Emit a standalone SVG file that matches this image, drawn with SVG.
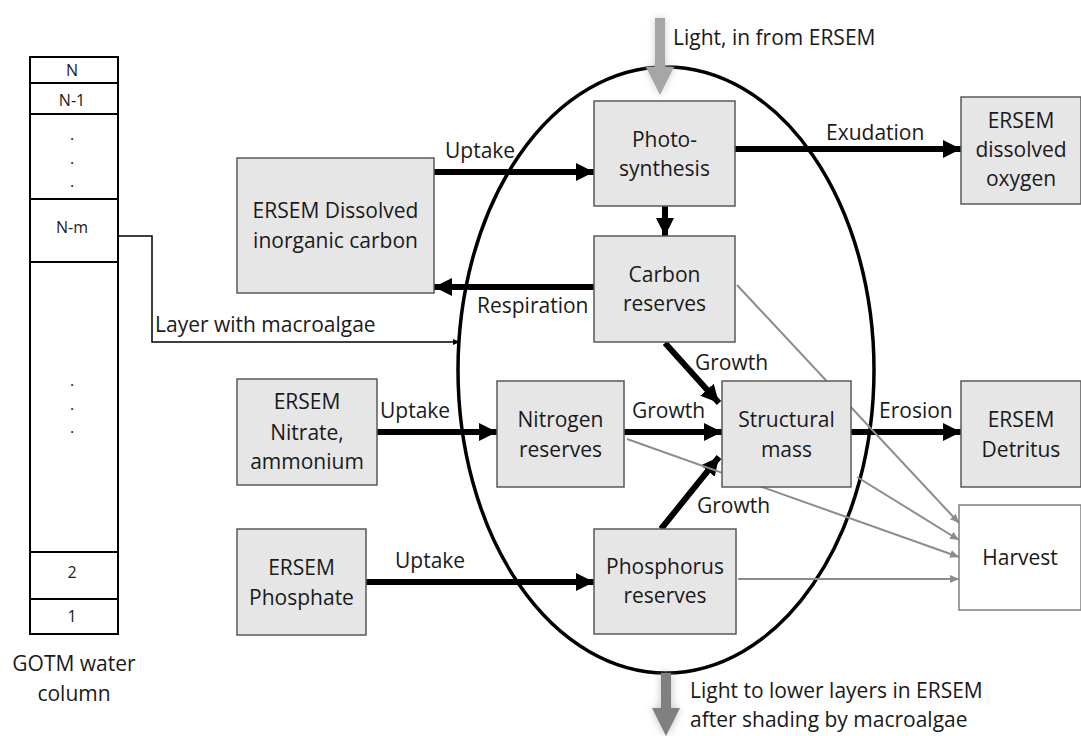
<svg xmlns="http://www.w3.org/2000/svg" width="1081" height="736" viewBox="0 0 1081 736">
<style>
text{font-family:"Open Sans","Liberation Sans",sans-serif;font-size:21px;fill:#1a1a1a;}
.c{text-anchor:middle;}
.box{fill:#e6e6e6;stroke:#595959;stroke-width:1.5;}
.wc{fill:#fff;stroke:#000;stroke-width:2;}
.wt{font-size:16px;}
.thick{stroke:#000;stroke-width:6;fill:none;marker-end:url(#ah);}
.grey{stroke:#8c8c8c;stroke-width:2;fill:none;marker-end:url(#gh);}
</style>
<defs>
<marker id="ah" markerUnits="userSpaceOnUse" markerWidth="20" markerHeight="20" refX="18" refY="9" orient="auto"><path d="M0,0 L18,9 L0,18 Z" fill="#000"/></marker>
<marker id="gh" markerUnits="userSpaceOnUse" markerWidth="10" markerHeight="10" refX="9" refY="4" orient="auto"><path d="M0,0 L9,4 L0,8 Z" fill="#8c8c8c"/></marker>
<marker id="sh" markerUnits="userSpaceOnUse" markerWidth="8" markerHeight="8" refX="7" refY="3" orient="auto"><path d="M0,0 L7,3 L0,6 Z" fill="#000"/></marker>
<filter id="glow" x="-100%" y="-30%" width="300%" height="160%"><feGaussianBlur stdDeviation="4"/></filter>
</defs>

<g id="water-column">
<rect class="wc" x="30" y="57" width="88" height="26"/>
<rect class="wc" x="30" y="83" width="88" height="31"/>
<rect class="wc" x="30" y="114" width="88" height="85"/>
<rect class="wc" x="30" y="199" width="88" height="63"/>
<rect class="wc" x="30" y="262" width="88" height="290"/>
<rect class="wc" x="30" y="552" width="88" height="47"/>
<rect class="wc" x="30" y="599" width="88" height="35"/>
<text class="c wt" x="72" y="76">N</text>
<text class="c wt" x="72" y="106">N-1</text>
<text class="c wt" x="72" y="140">.</text>
<text class="c wt" x="72" y="164">.</text>
<text class="c wt" x="72" y="187">.</text>
<text class="c wt" x="72" y="233">N-m</text>
<text class="c wt" x="72" y="386">.</text>
<text class="c wt" x="72" y="410">.</text>
<text class="c wt" x="72" y="433">.</text>
<text class="c wt" x="72" y="578">2</text>
<text class="c wt" x="72" y="622">1</text>
<text class="c" x="74" y="671">GOTM water</text>
<text class="c" x="74" y="701">column</text>
</g>

<g id="macroalgae-ellipse">
<ellipse cx="666" cy="370" rx="208" ry="303" fill="none" stroke="#000" stroke-width="3.5"/>
</g>

<g id="light-in">
<path d="M655,18 L665,18 L665,67 L674,67 L660,95 L646,67 L655,67 Z" fill="#bfbfbf" filter="url(#glow)" opacity="0.8"/>
<path d="M655,18 L665,18 L665,67 L674,67 L660,95 L646,67 L655,67 Z" fill="#a6a6a6"/>
<text x="673" y="45">Light, in from ERSEM</text>
</g>

<g id="light-out">
<path d="M661,673 L671,673 L671,708 L680,708 L666,736 L652,708 L661,708 Z" fill="#a6a6a6" filter="url(#glow)" opacity="0.7"/>
<path d="M661,673 L671,673 L671,708 L680,708 L666,736 L652,708 L661,708 Z" fill="#808080"/>
<text x="690" y="698">Light to lower layers in ERSEM</text>
<text x="690" y="727">after shading by macroalgae</text>
</g>

<g id="connectors">
<line class="thick" x1="434" y1="172" x2="594" y2="172"/>
<line class="thick" x1="735" y1="149" x2="961" y2="149"/>
<line class="thick" x1="665" y1="206" x2="665" y2="236"/>
<line class="thick" x1="594" y1="287" x2="434" y2="287"/>
<line class="thick" x1="665" y1="343" x2="719" y2="403"/>
<line class="thick" x1="624" y1="432" x2="722" y2="432"/>
<line class="thick" x1="661" y1="529" x2="719" y2="457"/>
<line class="thick" x1="851" y1="432" x2="961" y2="432"/>
<line class="thick" x1="377" y1="432" x2="497" y2="432"/>
<line class="thick" x1="366" y1="582" x2="594" y2="582"/>
<line class="grey" x1="737" y1="285" x2="959" y2="523"/>
<line class="grey" x1="857" y1="477" x2="959" y2="540"/>
<line class="grey" x1="627" y1="439" x2="959" y2="557"/>
<line class="grey" x1="738" y1="579" x2="959" y2="579"/>
<polyline points="118,236 152,236 152,342 460,342" fill="none" stroke="#000" stroke-width="1.5" marker-end="url(#sh)"/>
<text x="445" y="158">Uptake</text>
<text x="826" y="140">Exudation</text>
<text x="477" y="313">Respiration</text>
<text x="695" y="370">Growth</text>
<text x="632" y="418">Growth</text>
<text x="697" y="513">Growth</text>
<text x="879" y="418">Erosion</text>
<text x="380" y="418">Uptake</text>
<text x="395" y="568">Uptake</text>
<text x="155" y="332">Layer with macroalgae</text>
</g>

<g id="photosynthesis">
<rect class="box" x="594" y="101" width="141" height="105"/>
<text class="c" x="664.5" y="147">Photo-</text>
<text class="c" x="664.5" y="176">synthesis</text>
</g>
<g id="carbon-reserves">
<rect class="box" x="594" y="236" width="141" height="106"/>
<text class="c" x="664.5" y="282">Carbon</text>
<text class="c" x="664.5" y="311">reserves</text>
</g>
<g id="dic">
<rect class="box" x="237" y="158" width="197" height="135"/>
<text class="c" x="335.5" y="218">ERSEM Dissolved</text>
<text class="c" x="335.5" y="248">inorganic carbon</text>
</g>
<g id="oxygen">
<rect class="box" x="961" y="97" width="120" height="107"/>
<text class="c" x="1021" y="128">ERSEM</text>
<text class="c" x="1021" y="157">dissolved</text>
<text class="c" x="1021" y="186">oxygen</text>
</g>
<g id="structural-mass">
<rect class="box" x="722" y="381" width="129" height="106"/>
<text class="c" x="786.5" y="427">Structural</text>
<text class="c" x="786.5" y="457">mass</text>
</g>
<g id="nitrogen-reserves">
<rect class="box" x="497" y="381" width="127" height="106"/>
<text class="c" x="560.5" y="427">Nitrogen</text>
<text class="c" x="560.5" y="457">reserves</text>
</g>
<g id="detritus">
<rect class="box" x="961" y="381" width="120" height="106"/>
<text class="c" x="1021" y="427">ERSEM</text>
<text class="c" x="1021" y="457">Detritus</text>
</g>
<g id="nitrate">
<rect class="box" x="237" y="379" width="140" height="106"/>
<text class="c" x="307" y="409">ERSEM</text>
<text class="c" x="307" y="440">Nitrate,</text>
<text class="c" x="307" y="469">ammonium</text>
</g>
<g id="phosphate">
<rect class="box" x="237" y="529" width="129" height="106"/>
<text class="c" x="301.5" y="575">ERSEM</text>
<text class="c" x="301.5" y="605">Phosphate</text>
</g>
<g id="phosphorus-reserves">
<rect class="box" x="594" y="529" width="142" height="105"/>
<text class="c" x="665" y="574">Phosphorus</text>
<text class="c" x="665" y="603">reserves</text>
</g>
<g id="harvest">
<rect x="959" y="505" width="122" height="105" fill="#fff" stroke="#7f7f7f" stroke-width="1.5"/>
<text class="c" x="1020" y="565">Harvest</text>
</g>
</svg>
